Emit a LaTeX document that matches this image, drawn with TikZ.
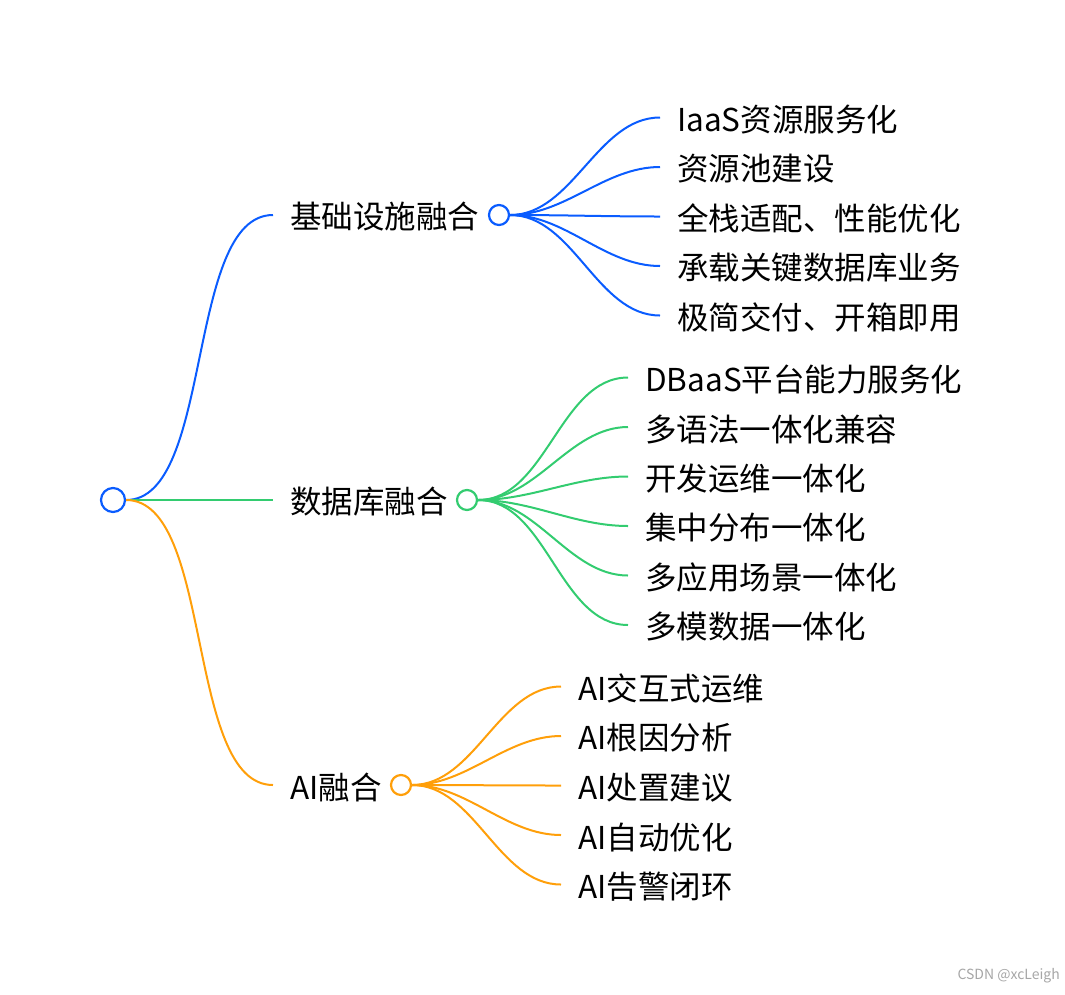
\documentclass[tikz,border=0pt]{standalone}
\usepackage{fontspec}
\setmainfont{Noto Sans CJK SC}
\definecolor{infrablue}{HTML}{0A5CFF}
\definecolor{dbgreen}{HTML}{33CC70}
\definecolor{aiorange}{HTML}{FF9F0A}
\tikzset{
  topic/.style={anchor=west, inner sep=0pt, font=\fontsize{31.5pt}{34pt}\selectfont},
  leaf/.style={anchor=west, inner sep=0pt, font=\fontsize{31.5pt}{34pt}\selectfont},
  knob/.style={circle, draw=#1, line width=2.2pt, fill=white, minimum size=20pt, inner sep=0pt},
  link/.style={draw=#1, line width=2pt},
  sbend/.style={out=0, in=180, looseness=0.9}
}
\begin{document}
\begin{tikzpicture}[x=1pt,y=-1pt]
  \useasboundingbox (0,0) rectangle (1065,994);

  % root
  \node[knob=infrablue, minimum size=24pt] (root) at (113,500) {};

  % branch heads
  \coordinate (infraend) at (273,215);
  \coordinate (dbend) at (273,500);
  \coordinate (aiend) at (273,785);
  \node[topic] (infra) at (290,217) {基础设施融合};
  \node[topic] (db) at (290,502) {数据库融合};
  \node[topic] (ai) at (290,787) {AI融合};
  \node[knob=infrablue] (infraknob) at (499,215) {};
  \node[knob=dbgreen] (dbknob) at (467,500) {};
  \node[knob=aiorange] (aiknob) at (401,785) {};

  \draw[link=infrablue] (root.east) to[sbend, looseness=0.7] (infraend);
  \draw[link=dbgreen] (root.east) -- (dbend);
  \draw[link=aiorange] (root.east) to[sbend, looseness=0.7] (aiend);

  % infrastructure leaves
  \foreach \txt [count=\i] in {IaaS资源服务化, 资源池建设, 全栈适配、性能优化, 承载关键数据库业务, 极简交付、开箱即用} {
    \coordinate (infra\i) at (660,{68+49.5*\i});
    \node[leaf] (infraleaf\i) at (677,{70+49.5*\i}) {\txt};
    \draw[link=infrablue] (infraknob.east) to[sbend] (infra\i);
  }

  % database leaves
  \foreach \txt [count=\i] in {DBaaS平台能力服务化, 多语法一体化兼容, 开发运维一体化, 集中分布一体化, 多应用场景一体化, 多模数据一体化} {
    \coordinate (db\i) at (628,{328+49.5*\i});
    \node[leaf] (dbleaf\i) at (645,{330+49.5*\i}) {\txt};
    \draw[link=dbgreen] (dbknob.east) to[sbend] (db\i);
  }

  % AI leaves
  \foreach \txt [count=\i] in {AI交互式运维, AI根因分析, AI处置建议, AI自动优化, AI告警闭环} {
    \coordinate (ai\i) at (561,{637+49.5*\i});
    \node[leaf] (aileaf\i) at (578,{639+49.5*\i}) {\txt};
    \draw[link=aiorange] (aiknob.east) to[sbend] (ai\i);
  }

  \node[anchor=east, inner sep=0pt, text=gray!70, font=\fontsize{14pt}{16pt}\selectfont] (mark) at (1060,976) {CSDN @xcLeigh};
\end{tikzpicture}
\end{document}
